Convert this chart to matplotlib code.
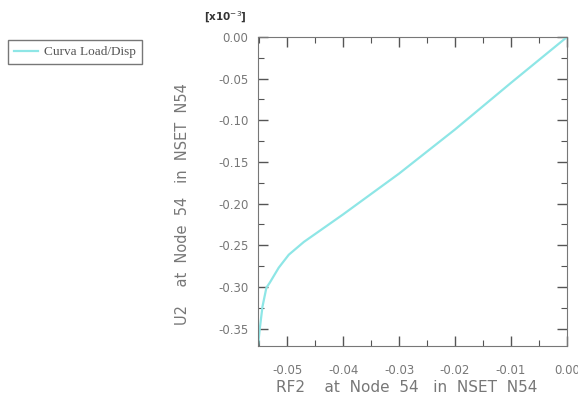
import numpy as np
import matplotlib.pyplot as plt
from matplotlib.ticker import MultipleLocator

# Curva Load/Disp (RF2 x U2, U2 em unidades de 1e-3)
rf2 = [0.0, -0.0100, -0.0200, -0.0300, -0.0400, -0.0439, -0.0470,
       -0.0497, -0.0515, -0.0531, -0.0537, -0.0544, -0.0549, -0.0552]
u2 = [0.0, -0.055, -0.111, -0.164, -0.213, -0.2314, -0.246,
      -0.2614, -0.277, -0.295, -0.301, -0.3237, -0.3513, -0.3717]

xticks = [-0.05, -0.04, -0.03, -0.02, -0.01, 0.00]
yticks = [0.00, -0.05, -0.10, -0.15, -0.20, -0.25, -0.30, -0.35]

fig = plt.figure(figsize=(5.78, 3.97), dpi=100)
ax = fig.add_axes([258/578, 1-346/397, 309/578, 309/397])

ax.plot(rf2, u2, color='#8ee6e6', linewidth=1.6, label='Curva Load/Disp')
ax.set_xlim(-0.0552, 0.0)
ax.set_ylim(-0.371, 0.0)

ax.set_xticks(xticks)
ax.set_xticklabels(['%.2f' % t for t in xticks])
ax.set_yticks(yticks)
ax.set_yticklabels(['%.2f' % t for t in yticks])
ax.xaxis.set_minor_locator(MultipleLocator(0.005))
ax.yaxis.set_minor_locator(MultipleLocator(0.025))
ax.tick_params(which='both', direction='in', top=True, right=True,
               colors='#555555', labelcolor='#777777', labelsize=8.5)
ax.tick_params(which='major', length=7, width=1)
ax.tick_params(which='minor', length=4, width=0.8)
ax.tick_params(axis='x', which='major', pad=13)
ax.tick_params(axis='y', which='major', pad=7)
for s in ax.spines.values():
    s.set_color('#777777')

ax.set_xlabel('RF2    at  Node  54   in  NSET  N54', fontsize=11, color='#777777')
ax.xaxis.set_label_coords(0.48, -0.11)
ax.set_ylabel('U2    at  Node  54   in  NSET  N54', fontsize=10.5, color='#777777')
ax.yaxis.set_label_coords(-0.22, 0.46)
fig.text(204/578, 1-17/397, r'[x10$^{-3}$]', fontsize=7.5, fontweight='bold',
         color='#333333', ha='left', va='center')

fig.legend(loc='upper left', bbox_to_anchor=(8/578, 1-40/397),
           prop={'family': 'Liberation Serif', 'size': 9.5}, frameon=True,
           fancybox=False, edgecolor='#555555', handlelength=1.8,
           handletextpad=0.5, borderpad=0.45, borderaxespad=0,
           labelcolor='#555555')

fig.savefig('out.png', dpi=100)
